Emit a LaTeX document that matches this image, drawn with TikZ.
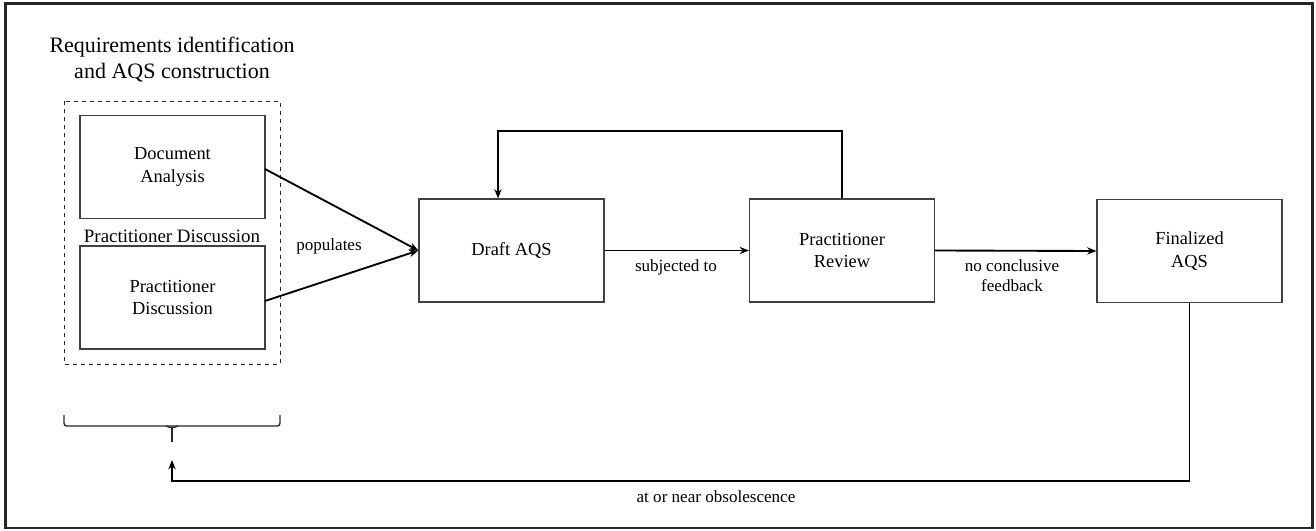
\documentclass[tikz,border=0pt]{standalone}
\usepackage{fontspec}
\setmainfont{Liberation Serif}
\usetikzlibrary{arrows.meta}
\begin{document}
\begin{tikzpicture}[x=0.75pt,y=-0.75pt,
  stagebox/.style={draw=black!75,line width=0.9pt,rectangle,minimum width=185*0.75pt,
    minimum height=103*0.75pt,align=center,inner sep=0pt,
    font=\fontsize{13.8pt}{17.2pt}\selectfont},
  flow/.style={line width=1.4pt,-{Stealth[length=7pt,width=5.5pt]}},
  edgelabel/.style={font=\fontsize{12.8pt}{15pt}\selectfont,align=center,inner sep=0pt}]
\useasboundingbox (0,0) rectangle (1316,531);
% outer frame
\draw[line width=2.1pt,black!85] (5.5,3.5) rectangle (1312.5,528);

% left group: title, dashed container and the two source boxes
\node[align=center,font=\fontsize{16.5pt}{19.5pt}\selectfont] (title) at (172,60)
  {Requirements identification\\and AQS construction};
\draw[dashed,line width=0.7pt,black!85] (64,101) rectangle (280,364);
\node[stagebox] (doc) at (172.5,167) {Document\\Analysis};
\node[font=\fontsize{14.2pt}{17pt}\selectfont,inner sep=0pt] (pdlabel) at (172,236) {Practitioner Discussion};
\node[stagebox] (pd) at (172.5,297.5) {Practitioner\\Discussion};

% brace under the group
\coordinate (brl) at (64,415);
\coordinate (brr) at (280,415);
\coordinate (brtip) at (172,442);
\draw[line width=1pt,black!85,rounded corners=2pt] (brl) -- (64,426) -- (280,426) -- (brr);
\draw[line width=1pt,black!85,rounded corners=2pt] (166,426) -- (172,428) -- (178,426);
\draw[line width=1pt,black!85] (172,427) -- (brtip);

% main flow boxes
\node[stagebox] (draft) at (511.5,250.5) {Draft AQS};
\node[stagebox] (review) at (842,250.5) {Practitioner\\Review};
\node[stagebox] (final) at (1189.5,251) {Finalized\\AQS};

% populates
\coordinate (docout) at (265,169);
\coordinate (pdout) at (265,301);
\draw[flow] (docout) -- (draft.west);
\draw[flow] (pdout) -- (draft.west);
\node[edgelabel] (poplbl) at (329,246) {populates};

% draft -> review -> final
\draw[flow] (draft.east) -- (review.west);
\node[edgelabel] (subjlbl) at (676,267) {subjected to};
\draw[flow] (review.east) -- (final.west);
\node[edgelabel] (fblbl) at (1012,275.5) {no conclusive\\feedback};

% feedback loop from review back to draft
\draw[flow] (review.north) -- (842,131) -- (498,131) -- (draft.north -| 498,0);

% return to the start when obsolete
\coordinate (back) at (172,460);
\draw[flow] (final.south) -- (1189.5,481) -- (172,481) -- (back);
\node[edgelabel] (obslbl) at (716,497) {at or near obsolescence};
\end{tikzpicture}
\end{document}
